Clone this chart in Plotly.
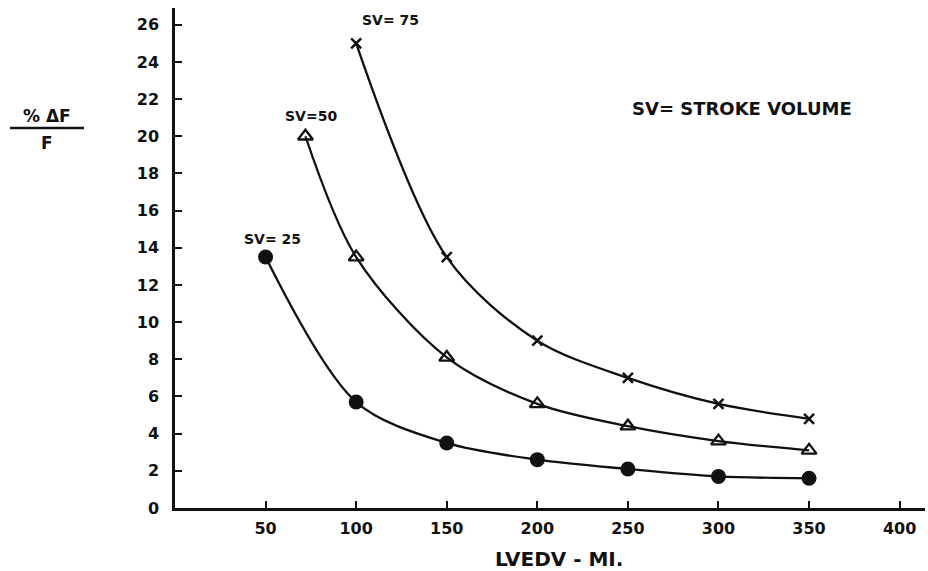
import plotly.graph_objects as go

# data
lvedv_25 = [50, 100, 150, 200, 250, 300, 350]
pct_25 = [13.5, 5.7, 3.5, 2.6, 2.1, 1.7, 1.6]
lvedv_50 = [72, 100, 150, 200, 250, 300, 350]
pct_50 = [20.0, 13.5, 8.1, 5.6, 4.4, 3.6, 3.1]
lvedv_75 = [100, 150, 200, 250, 300, 350]
pct_75 = [25.0, 13.5, 9.0, 7.0, 5.6, 4.8]
x_ticks = [50, 100, 150, 200, 250, 300, 350, 400]
y_ticks = list(range(0, 27, 2))

FONT = "DejaVu Sans"
BLACK = "#111111"

# plot area in pixels (for converting pixel positions to paper coords)
L, R, T, B = 175, 925, 8, 508


def px(x):
    return (x - L) / (R - L)


def py(y):
    return (B - y) / (B - T)


fig = go.Figure()
fig.add_trace(go.Scatter(x=lvedv_25, y=pct_25, mode="lines+markers",
                         line=dict(color=BLACK, width=2.3, shape="spline", smoothing=0.9),
                         marker=dict(symbol="circle", size=15, color=BLACK)))
fig.add_trace(go.Scatter(x=lvedv_50, y=pct_50, mode="lines+markers",
                         line=dict(color=BLACK, width=2.3, shape="spline", smoothing=0.9),
                         marker=dict(symbol="triangle-up-open", size=13, color=BLACK,
                                     line=dict(width=2.3, color=BLACK))))
fig.add_trace(go.Scatter(x=lvedv_75, y=pct_75, mode="lines+markers",
                         line=dict(color=BLACK, width=2.3, shape="spline", smoothing=0.9),
                         marker=dict(symbol="x-thin", size=10, color=BLACK,
                                     line=dict(width=2.5, color=BLACK))))

annots = [
    dict(x=119, y=26.25, text="SV= 75", size=14),
    dict(x=75, y=21.1, text="SV=50", size=14),
    dict(x=54, y=14.45, text="SV= 25", size=14),
    dict(x=313, y=21.5, text="SV= STROKE VOLUME", size=18),
]
for a in annots:
    fig.add_annotation(x=a["x"], y=a["y"], xref="x", yref="y", text=a["text"],
                       showarrow=False, xanchor="center", yanchor="middle",
                       font=dict(family=FONT, size=a["size"], color=BLACK, weight="bold"))

fig.add_annotation(x=px(47), y=py(116), xref="paper", yref="paper",
                   xanchor="center", yanchor="middle",
                   text="% ΔF", showarrow=False,
                   font=dict(family=FONT, size=17, color=BLACK, weight="bold"))
fig.add_annotation(x=px(47), y=py(143), xref="paper", yref="paper",
                   xanchor="center", yanchor="middle",
                   text="F", showarrow=False,
                   font=dict(family=FONT, size=17, color=BLACK, weight="bold"))
fig.add_shape(type="line", xref="paper", yref="paper",
              x0=px(10), x1=px(84), y0=py(128), y1=py(128),
              line=dict(color=BLACK, width=2.5))
fig.add_annotation(x=px(559), y=py(559), xref="paper", yref="paper",
                   xanchor="center", yanchor="middle",
                   text="LVEDV - MI.", showarrow=False,
                   font=dict(family=FONT, size=20, color=BLACK, weight="bold"))

fig.update_layout(
    width=928, height=571,
    margin=dict(l=L, r=928 - R, t=T, b=571 - B),
    paper_bgcolor="white", plot_bgcolor="white",
    showlegend=False,
    font=dict(family=FONT, color=BLACK),
)
fig.update_xaxes(range=[0, 414], tickvals=x_ticks, ticktext=[str(v) for v in x_ticks],
                 showgrid=False, zeroline=False, showline=True, linecolor=BLACK, linewidth=2.5,
                 ticks="inside", ticklen=7, tickwidth=2, tickcolor=BLACK,
                 tickfont=dict(family=FONT, size=16, color=BLACK, weight="bold"),
                 ticklabelstandoff=4)
fig.update_yaxes(range=[0, 26.9], tickvals=y_ticks, ticktext=[str(v) for v in y_ticks],
                 showgrid=False, zeroline=False, showline=True, linecolor=BLACK, linewidth=2.5,
                 ticks="inside", ticklen=7, tickwidth=2, tickcolor=BLACK,
                 tickfont=dict(family=FONT, size=16, color=BLACK, weight="bold"),
                 ticklabelstandoff=10)

fig.write_html("out.html")
